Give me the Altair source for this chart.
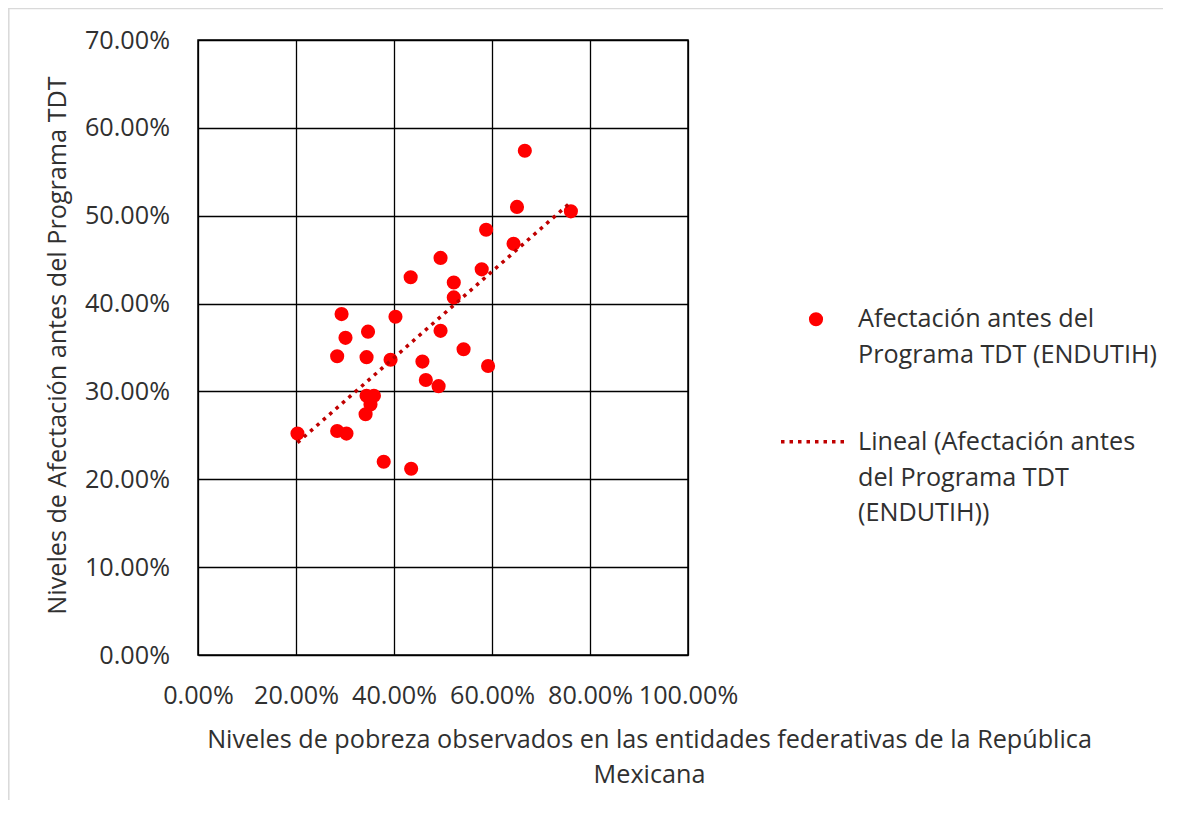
import altair as alt
import pandas as pd

# Poverty level (x) and affectation level (y), fractions
pobreza = [0.293, 0.347, 0.301, 0.403, 0.495, 0.284, 0.344, 0.393, 0.458, 0.542,
           0.592, 0.465, 0.491, 0.344, 0.359, 0.352, 0.342, 0.203, 0.284, 0.303,
           0.379, 0.435, 0.667, 0.651, 0.761, 0.588, 0.644, 0.495, 0.434, 0.579,
           0.522, 0.522]
afectacion = [0.388, 0.368, 0.361, 0.385, 0.369, 0.340, 0.339, 0.336, 0.334, 0.348,
              0.329, 0.313, 0.306, 0.295, 0.295, 0.285, 0.274, 0.252, 0.255, 0.252,
              0.220, 0.212, 0.574, 0.510, 0.505, 0.484, 0.468, 0.452, 0.430, 0.439,
              0.424, 0.407]

serie_puntos = ["Afectación antes del", "Programa TDT (ENDUTIH)"]
serie_lineal = ["Lineal (Afectación antes", "del Programa TDT", "(ENDUTIH))"]

x_ticks = [0, 0.2, 0.4, 0.6, 0.8, 1.0]
y_ticks = [0, 0.1, 0.2, 0.3, 0.4, 0.5, 0.6, 0.7]

x_title = ["Niveles de pobreza observados en las entidades federativas de la República", "Mexicana"]
y_title = "Niveles de Afectación antes del Programa TDT"

df = pd.DataFrame({"x": pobreza, "y": afectacion})

FONT = "Open Sans"
FW = 400
TXT = "#303030"
FS = 25.2
RED = "#ff0000"
DARKRED = "#c00000"

xenc = alt.X("x:Q", scale=alt.Scale(domain=[0, 1], nice=False),
             axis=alt.Axis(values=x_ticks, format=".2%", title=x_title,
                           titleX=451, titleY=92, titleAlign="center", titleAnchor="middle",
                           titleBaseline="alphabetic", titleLineHeight=35,
                           labelPadding=28, labelOverlap=False, labelFlush=False,
                           ticks=False, tickSize=0, domain=False,
                           gridColor="black", gridWidth=1.3, gridOpacity=1))
yenc = alt.Y("y:Q", scale=alt.Scale(domain=[0, 0.7], nice=False),
             axis=alt.Axis(values=y_ticks, format=".2%", title=y_title,
                           titleX=-133, titleY=305, titleAngle=-90, titleAlign="center",
                           titleBaseline="alphabetic",
                           labelPadding=28.5, labelOverlap=False, labelFlush=False,
                           ticks=False, tickSize=0, domain=False,
                           gridColor="black", gridWidth=1.3, gridOpacity=1))

base = alt.Chart(df)

points = base.mark_circle(size=200, opacity=1, color=RED).encode(x=xenc, y=yenc)

trend = base.transform_regression("x", "y").mark_line(
    strokeWidth=3.5, strokeDash=[3.5, 5], color=DARKRED
).encode(x="x:Q", y="y:Q")

one = alt.Data(values=[{}])

# legend (drawn beside the plot)
leg_sym1 = alt.Chart(one).mark_circle(size=200, opacity=1, color=RED).encode(
    x=alt.value(618), y=alt.value(279.3))
leg_txt1 = alt.Chart(one).mark_text(align="left", baseline="alphabetic", font=FONT,
                                    fontWeight=FW, fontSize=FS, color=TXT, lineHeight=36).encode(
    x=alt.value(660), y=alt.value(286.7), text=alt.value(serie_puntos))
leg_sym2 = alt.Chart(one).mark_rule(strokeWidth=3.5, strokeDash=[3.5, 5], color=DARKRED).encode(
    x=alt.value(583), x2=alt.value(646), y=alt.value(401.7))
leg_txt2 = alt.Chart(one).mark_text(align="left", baseline="alphabetic", font=FONT,
                                    fontWeight=FW, fontSize=FS, color=TXT, lineHeight=35.5).encode(
    x=alt.value(660), y=alt.value(410), text=alt.value(serie_lineal))

border = alt.Chart(one).mark_rule(color="#d9d9d9", strokeWidth=1.5)
border_left = border.encode(x=alt.value(-189.2), y=alt.value(-40), y2=alt.value(800))
border_top = border.encode(x=alt.value(-190), x2=alt.value(990), y=alt.value(-31.5))

chart = alt.layer(border_left, border_top, points, trend,
                  leg_sym1, leg_txt1, leg_sym2, leg_txt2).properties(
    width=490, height=615,
    padding={"left": 190, "top": 32, "right": 475, "bottom": 145},
    autosize=alt.AutoSizeParams(type="none"),
).configure_view(
    stroke="black", strokeWidth=1.5
).configure_axis(
    labelFont=FONT, labelFontSize=FS, labelColor=TXT, labelFontWeight=FW,
    titleFont=FONT, titleFontSize=FS, titleColor=TXT, titleFontWeight=FW,
)

chart.save("out.html", embed_options={"renderer": "svg", "actions": False})
